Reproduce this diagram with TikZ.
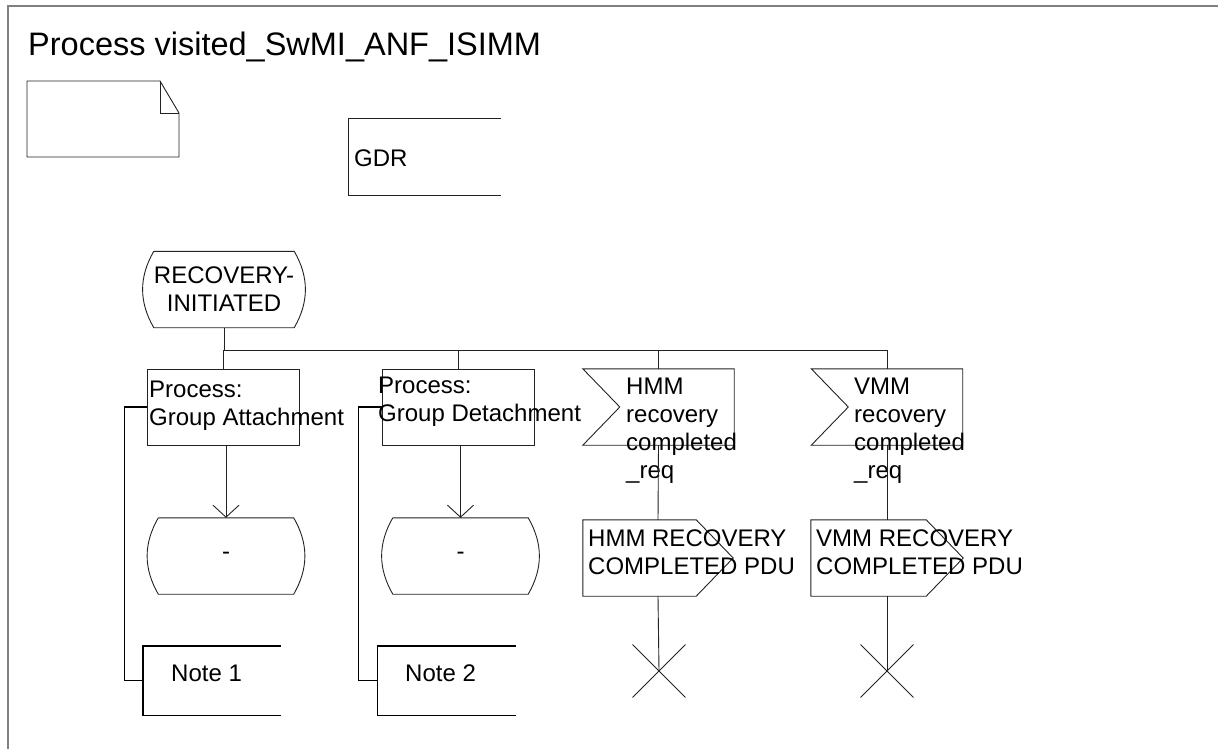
\documentclass[tikz,border=0pt]{standalone}
\usepackage{fontspec}
\setmainfont{Liberation Sans}
\usetikzlibrary{positioning,shapes.misc,arrows.meta}
\definecolor{ink}      {HTML}{222222}
\definecolor{framegray}{HTML}{808080}
\tikzset{
  >={Straight Barb[length=12pt,width=26pt]},
  every node/.style={font=\fontsize{24}{28}\selectfont},
  % --- nodes
  task/.style     = {draw=ink, line width=0.9pt, minimum width=152pt, minimum height=76pt, inner sep=0pt},
  statebox/.style = {minimum width=135pt, minimum height=76pt, inner sep=0pt, align=center},
  sigbox/.style   = {minimum width=151pt, minimum height=76pt, inner sep=0pt},
  extbox/.style   = {minimum width=152pt, minimum height=76pt, inner sep=0pt},
  notebox/.style  = {minimum width=138pt, minimum height=69pt, inner sep=0pt},
  stopx/.style    = {shape=cross out, draw=ink, line width=0.9pt, minimum size=52pt, inner sep=0pt},
  txt/.style      = {inner sep=0pt, align=left, anchor=west},
  % --- edges
  e/.style        = {draw=ink, line width=0.9pt},
  ea/.style       = {e, ->},
  cmt/.style      = {draw=black, line width=1.4pt},
}

\begin{document}
\begin{tikzpicture}[x=1pt, y=-1pt]
  \useasboundingbox (0,0) rectangle (1218,749);
  \draw[framegray, line width=1.6pt] (8,749) -- (8,6) -- (1218,6);

  \node[txt, anchor=base west, font=\fontsize{32.5}{38}\selectfont] (title) at (28,56)
    {Process visited\_SwMI\_ANF\_ISIMM};

  % text symbol and text extension
  \draw[e] (27,81) -- (160,81) -- (179,113) -- (179,157) -- (27,157) -- cycle;
  \draw[e] (160,81) -- (160,113) -- (179,113);
  \node[extbox] (gdr) at (425,157) {};
  \node[txt, anchor=base west] (gdrt) at (354,166) {GDR};
  \draw[e] (gdr.north east) -| (gdr.south west) -- (gdr.south east);

  % state and branches
  \node[statebox] (s0) at (224,289.5) {RECOVERY-\\INITIATED};
  \coordinate (br) at (224,350);
  \node[task] (t1) at (223,407) {};
  \node[task] (t2) at (458,407) {};
  \node[sigbox] (in1) at (658.5,407) {};
  \node[sigbox] (in2) at (887,407) {};
  \foreach \n in {in1,in2}
    \draw[e] (\n.north west) -- (\n.north east) -- (\n.south east) -- (\n.south west)
      -- ([xshift=37pt]\n.west) -- cycle;
  \node[txt] (t1t) at (149,406) {Process:\\Group Attachment};
  \node[txt] (t2t) at (378,402) {Process:\\Group Detachment};
  \node[txt] (in1t) at (626,430.5) {HMM\\recovery\\completed\\\_req};
  \node[txt] (in2t) at (854,430.5) {VMM\\recovery\\completed\\\_req};

  \draw[e] (s0.south) -- (br);
  \draw[e] (br -| t1.north) -- (br -| in2.north);
  \foreach \n in {t1,t2,in1,in2}
    \draw[e] (br -| \n.north) -- (\n.north);

  % next states
  \node[statebox] (st1) at (226,556) {-};
  \node[statebox] (st2) at (460.5,556) {-};
  \draw[ea] (t1.south -| st1.north) -- (st1.north);
  \draw[ea] (t2.south -| st2.north) -- (st2.north);
  \foreach \s in {s0,st1,st2}
    \draw[e] (\s.north west) -- (\s.north east) to[bend left=30] (\s.south east)
      -- (\s.south west) to[bend left=30] (\s.north west);

  % outputs and stops
  \node[sigbox, minimum width=150pt] (out1) at (658,558) {};
  \node[sigbox, minimum width=152pt] (out2) at (887,558) {};
  \foreach \n in {out1,out2}
    \draw[e] (\n.north west) -- ([xshift=-37pt]\n.north east) -- (\n.east)
      -- ([xshift=-37pt]\n.south east) -- (\n.south west) -- cycle;
  \node[txt] (out1t) at (588,552.5) {HMM RECOVERY\\COMPLETED PDU};
  \node[txt] (out2t) at (816,552.5) {VMM RECOVERY\\COMPLETED PDU};
  \draw[e] (in1.south) -- (out1.north);
  \draw[e] (in2.south) -- (out2.north);
  \node[stopx] (x1) at (659,671) {};
  \node[stopx] (x2) at (887,671) {};
  \draw[e] (out1.south) -- (x1.center);
  \draw[e] (out2.south) -- (x2.center);

  % comments
  \node[notebox] (n1) at (212,680.5) {};
  \node[notebox] (n2) at (446.5,680.5) {};
  \node[txt] (n1t) at (171,673.5) {Note 1};
  \node[txt] (n2t) at (405,673.5) {Note 2};
  \foreach \n in {n1,n2}
    \draw[cmt] (\n.north east) -| (\n.south west) -- (\n.south east);
  \draw[cmt] (t1.west) -- ++(-22,0) |- (n1.west);
  \draw[cmt] (t2.west) -- ++(-23,0) |- (n2.west);
\end{tikzpicture}
\end{document}
